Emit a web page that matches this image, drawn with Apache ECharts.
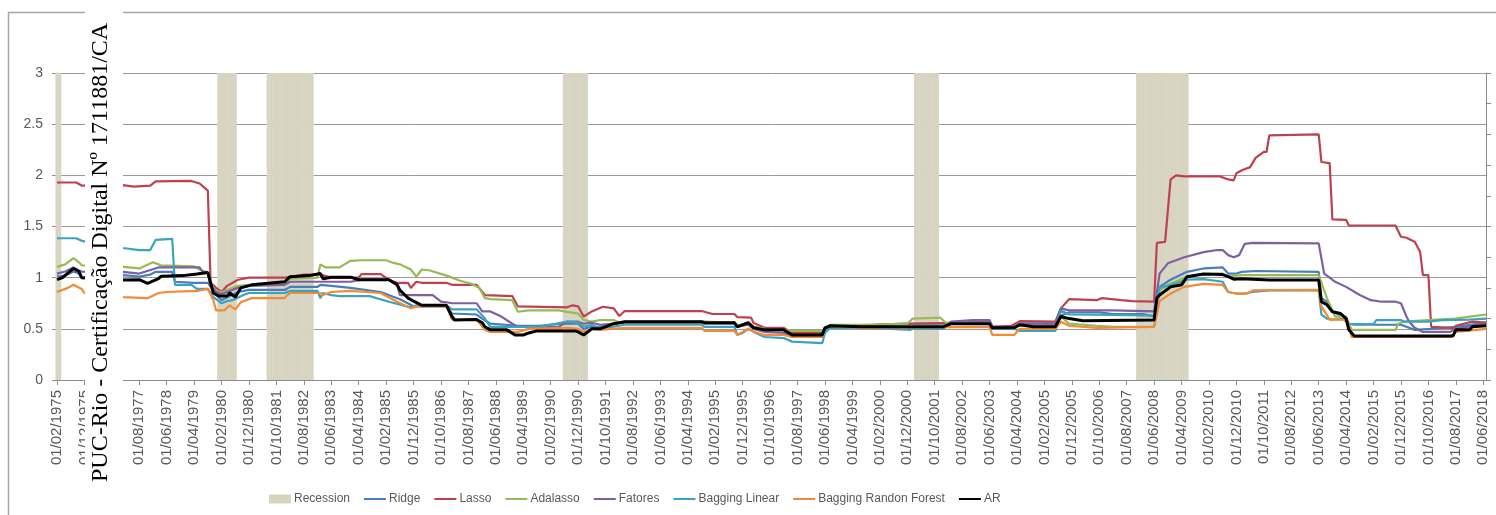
<!DOCTYPE html>
<html>
<head>
<meta charset="utf-8">
<script src="https://cdn.jsdelivr.net/npm/echarts@6/dist/echarts.min.js"></script>
<style>
  html, body { margin: 0; padding: 0; background: #ffffff; }
  #chart { width: 1496px; height: 515px; }
</style>
</head>
<body>
<div id="chart"></div>
<script>
// Monthly category axis: first observation February 1975, one label per month.
const startYear = 1975;
const startMonth = 2;
const monthCount = 522;
const categories = [];
for (let k = 0; k < monthCount; k++) {
  const m = (startMonth - 1 + k) % 12 + 1;
  const y = startYear + Math.floor((startMonth - 1 + k) / 12);
  categories.push('01/' + String(m).padStart(2, '0') + '/' + y);
}

// NBER recession periods (first and last month, inclusive).
const recessionPeriods = [
  ['01/02/1975', '01/03/1975'],
  ['01/01/1980', '01/07/1980'],
  ['01/07/1981', '01/11/1982'],
  ['01/07/1990', '01/03/1991'],
  ['01/03/2001', '01/11/2001'],
  ['01/12/2007', '01/06/2009']
];

// Each series: [month index, value] observations.
const ridge = [[0,1.01],[3,1.02],[6,1.06],[8,1.04],[9,1.0],[24,1.025],[30,1.01],[34,1.03],[36,1.057],[42,1.057],[43,0.96],[50,0.95],[55,0.95],[57,0.87],[60,0.78],[63,0.82],[66,0.86],[70,0.88],[83,0.88],[85,0.91],[95,0.91],[96,0.93],[100,0.92],[107,0.9],[118,0.86],[125,0.79],[130,0.72],[142,0.72],[144,0.65],[153,0.64],[155,0.6],[158,0.55],[168,0.53],[176,0.53],[184,0.55],[190,0.55],[192,0.5],[195,0.52],[198,0.52],[203,0.55],[207,0.57],[235,0.57],[240,0.56],[247,0.56],[248,0.53],[252,0.55],[254,0.52],[258,0.5],[265,0.5],[268,0.45],[279,0.45],[280,0.5],[282,0.53],[293,0.53],[308,0.55],[330,0.55],[334,0.575],[340,0.58],[341,0.52],[349,0.52],[351,0.55],[364,0.55],[366,0.63],[369,0.66],[380,0.66],[385,0.645],[396,0.645],[400,0.62],[402,0.91],[406,0.98],[412,1.057],[418,1.09],[425,1.1],[427,1.04],[430,1.04],[432,1.057],[437,1.065],[460,1.057],[461,0.8],[463,0.765],[465,0.667],[469,0.62],[471,0.55],[473,0.54],[490,0.54],[495,0.49],[501,0.5],[510,0.52],[521,0.56]];

const lasso = [[0,1.93],[7,1.93],[9,1.9],[24,1.905],[28,1.89],[34,1.9],[36,1.94],[49,1.945],[52,1.92],[55,1.85],[56,0.95],[58,0.9],[60,0.86],[62,0.92],[66,0.98],[70,1.0],[83,1.0],[86,1.01],[90,1.03],[96,1.03],[100,1.0],[110,1.0],[111,1.035],[118,1.035],[121,0.98],[124,0.95],[128,0.95],[129,0.9],[131,0.96],[133,0.95],[142,0.95],[144,0.93],[153,0.93],[156,0.83],[166,0.82],[168,0.72],[186,0.71],[188,0.73],[190,0.72],[192,0.62],[195,0.67],[199,0.716],[203,0.7],[205,0.625],[207,0.674],[235,0.674],[239,0.645],[247,0.645],[248,0.615],[253,0.61],[254,0.556],[258,0.51],[265,0.51],[268,0.46],[279,0.46],[280,0.51],[282,0.53],[297,0.54],[330,0.56],[339,0.56],[341,0.52],[348,0.53],[351,0.575],[364,0.57],[366,0.7],[369,0.79],[379,0.78],[381,0.8],[388,0.78],[392,0.77],[400,0.765],[401,1.34],[404,1.35],[406,1.96],[408,2.0],[411,1.99],[424,1.99],[427,1.96],[429,1.95],[430,2.02],[432,2.05],[435,2.08],[437,2.17],[440,2.23],[441,2.23],[442,2.39],[460,2.4],[461,2.13],[464,2.12],[465,1.57],[470,1.565],[471,1.51],[488,1.51],[490,1.4],[492,1.39],[495,1.35],[497,1.25],[498,1.025],[500,1.025],[501,0.52],[508,0.51],[509,0.5],[510,0.53],[516,0.57],[521,0.56]];

const adalasso = [[0,1.105],[3,1.13],[6,1.19],[8,1.15],[9,1.12],[24,1.105],[30,1.09],[35,1.15],[38,1.12],[50,1.11],[52,1.08],[55,1.05],[56,0.93],[58,0.87],[60,0.86],[63,0.89],[66,0.92],[70,0.93],[83,0.94],[85,0.99],[95,1.0],[96,1.13],[98,1.1],[103,1.1],[107,1.165],[111,1.17],[120,1.17],[122,1.15],[125,1.13],[129,1.08],[131,1.01],[133,1.08],[136,1.07],[142,1.02],[147,0.97],[151,0.94],[154,0.9],[156,0.8],[158,0.79],[166,0.78],[168,0.667],[172,0.68],[183,0.68],[186,0.665],[190,0.65],[192,0.586],[195,0.57],[198,0.586],[203,0.586],[205,0.56],[207,0.57],[235,0.57],[247,0.56],[248,0.53],[252,0.56],[254,0.52],[258,0.5],[265,0.49],[268,0.48],[279,0.48],[280,0.51],[282,0.54],[297,0.54],[310,0.55],[312,0.6],[322,0.61],[324,0.56],[340,0.55],[341,0.51],[349,0.51],[351,0.53],[364,0.53],[366,0.62],[369,0.55],[379,0.53],[385,0.52],[400,0.52],[402,0.88],[406,0.94],[412,1.01],[418,1.035],[425,1.04],[427,1.01],[432,1.025],[460,1.025],[463,0.8],[466,0.62],[470,0.62],[472,0.49],[488,0.49],[489,0.55],[491,0.57],[500,0.585],[510,0.6],[515,0.62],[521,0.64]];

const fatores = [[0,1.04],[3,1.06],[6,1.1],[8,1.07],[9,1.06],[24,1.057],[30,1.04],[37,1.1],[52,1.1],[53,1.06],[55,1.04],[56,0.92],[58,0.86],[60,0.84],[63,0.87],[66,0.9],[70,0.92],[83,0.93],[85,0.96],[96,0.96],[107,0.96],[111,0.98],[121,0.98],[124,0.93],[125,0.83],[137,0.83],[140,0.765],[142,0.76],[144,0.75],[153,0.75],[155,0.67],[158,0.67],[162,0.62],[166,0.55],[168,0.52],[183,0.52],[186,0.57],[190,0.57],[192,0.55],[195,0.56],[198,0.54],[207,0.56],[235,0.56],[236,0.55],[247,0.55],[248,0.52],[252,0.54],[254,0.5],[258,0.47],[265,0.46],[268,0.42],[279,0.42],[280,0.49],[282,0.52],[297,0.52],[308,0.52],[311,0.51],[323,0.51],[326,0.57],[334,0.586],[340,0.586],[341,0.52],[349,0.52],[351,0.55],[364,0.55],[366,0.7],[369,0.68],[385,0.68],[400,0.67],[402,1.04],[405,1.14],[411,1.2],[418,1.25],[423,1.27],[425,1.27],[427,1.22],[429,1.2],[431,1.22],[433,1.33],[436,1.34],[460,1.335],[462,1.04],[464,1.0],[466,0.96],[470,0.91],[475,0.83],[479,0.78],[483,0.765],[488,0.765],[490,0.75],[492,0.62],[493,0.57],[495,0.51],[498,0.47],[508,0.47],[510,0.5],[521,0.55]];

const baggingLinear = [[0,1.385],[7,1.385],[9,1.36],[24,1.29],[30,1.27],[34,1.27],[36,1.37],[42,1.38],[43,0.93],[49,0.93],[51,0.89],[55,0.89],[57,0.81],[60,0.75],[62,0.77],[64,0.78],[68,0.83],[70,0.85],[83,0.85],[85,0.87],[95,0.87],[96,0.8],[97,0.85],[100,0.83],[103,0.82],[114,0.82],[121,0.765],[129,0.71],[131,0.73],[142,0.73],[144,0.69],[153,0.69],[156,0.6],[158,0.52],[176,0.52],[186,0.57],[190,0.56],[192,0.52],[195,0.54],[198,0.5],[207,0.54],[235,0.54],[236,0.52],[247,0.52],[248,0.44],[250,0.46],[252,0.5],[254,0.47],[258,0.42],[265,0.41],[268,0.375],[279,0.36],[280,0.46],[282,0.51],[297,0.51],[311,0.49],[312,0.5],[323,0.5],[326,0.55],[340,0.55],[341,0.5],[349,0.5],[351,0.48],[364,0.48],[366,0.68],[369,0.64],[385,0.635],[400,0.63],[402,0.9],[406,0.93],[412,0.98],[418,0.985],[425,0.96],[427,0.86],[430,0.845],[433,0.845],[436,0.86],[442,0.875],[460,0.875],[461,0.64],[463,0.6],[465,0.59],[470,0.6],[471,0.547],[480,0.547],[481,0.586],[490,0.586],[491,0.57],[500,0.57],[505,0.585],[515,0.59],[521,0.6]];

const baggingRF = [[0,0.86],[4,0.9],[6,0.93],[9,0.89],[10,0.85],[24,0.81],[33,0.8],[37,0.85],[40,0.86],[51,0.87],[55,0.89],[57,0.78],[58,0.68],[61,0.68],[63,0.73],[65,0.69],[67,0.76],[71,0.8],[83,0.8],[84,0.83],[85,0.85],[96,0.85],[97,0.83],[100,0.86],[107,0.87],[118,0.85],[124,0.765],[129,0.7],[131,0.72],[142,0.72],[144,0.59],[153,0.59],[156,0.49],[158,0.47],[168,0.47],[172,0.5],[186,0.51],[190,0.5],[192,0.47],[195,0.5],[198,0.49],[207,0.51],[235,0.51],[236,0.48],[247,0.48],[248,0.44],[252,0.5],[254,0.47],[258,0.44],[265,0.44],[268,0.42],[279,0.42],[280,0.51],[282,0.53],[293,0.51],[340,0.52],[341,0.44],[349,0.44],[351,0.5],[364,0.5],[366,0.57],[369,0.53],[379,0.51],[400,0.52],[402,0.77],[406,0.845],[411,0.91],[418,0.94],[425,0.93],[427,0.86],[430,0.845],[434,0.845],[436,0.875],[460,0.88],[461,0.72],[464,0.59],[469,0.59],[471,0.55],[472,0.42],[508,0.42],[510,0.47],[521,0.5]];

const ar = [[0,0.98],[2,1.0],[6,1.09],[8,1.06],[9,1.0],[24,0.977],[30,0.98],[33,0.945],[37,0.99],[38,1.015],[46,1.02],[51,1.035],[55,1.05],[57,0.85],[59,0.82],[62,0.82],[63,0.85],[65,0.81],[67,0.9],[71,0.93],[83,0.96],[85,1.01],[92,1.02],[96,1.04],[97,0.99],[100,1.005],[107,1.005],[110,0.98],[121,0.98],[124,0.93],[125,0.88],[128,0.8],[130,0.77],[133,0.73],[142,0.73],[144,0.62],[145,0.586],[153,0.59],[155,0.56],[156,0.52],[158,0.49],[164,0.49],[167,0.44],[170,0.44],[172,0.46],[175,0.48],[189,0.48],[190,0.47],[192,0.44],[195,0.5],[198,0.5],[203,0.55],[207,0.57],[235,0.57],[236,0.56],[247,0.56],[248,0.52],[252,0.56],[254,0.51],[258,0.49],[265,0.49],[268,0.44],[279,0.44],[280,0.51],[282,0.53],[293,0.52],[323,0.52],[326,0.55],[340,0.55],[341,0.51],[349,0.51],[351,0.54],[356,0.52],[364,0.52],[366,0.62],[369,0.6],[374,0.58],[400,0.586],[401,0.8],[402,0.83],[406,0.91],[410,0.93],[412,1.01],[418,1.035],[425,1.03],[427,1.01],[429,0.985],[432,0.99],[442,0.977],[460,0.977],[461,0.765],[463,0.735],[465,0.667],[468,0.65],[470,0.6],[471,0.49],[473,0.43],[509,0.43],[510,0.49],[515,0.49],[516,0.52],[521,0.53]];

// Recession flag per month, on the secondary (0..1) axis.
const recession = categories.map(function (c, i) {
  for (const p of recessionPeriods) {
    const a = categories.indexOf(p[0]);
    const b = categories.indexOf(p[1]);
    if (i >= a && i <= b) return 1;
  }
  return '-';
});

const lineSeries = [
  { name: 'Ridge', data: ridge, color: '#4a7ebb', width: 2.2 },
  { name: 'Lasso', data: lasso, color: '#be4150', width: 2.2 },
  { name: 'Adalasso', data: adalasso, color: '#98b954', width: 2.2 },
  { name: 'Fatores', data: fatores, color: '#7d60a0', width: 2.2 },
  { name: 'Bagging Linear', data: baggingLinear, color: '#3aa4be', width: 2.2 },
  { name: 'Bagging Randon Forest', data: baggingRF, color: '#f38a35', width: 2.2 },
  { name: 'AR', data: ar, color: '#000000', width: 3 }
];

const chart = echarts.init(document.getElementById('chart'), null, { renderer: 'canvas' });

const axisGray = '#8c8c8c';
const labelGray = '#595959';

chart.setOption({
  animation: false,
  backgroundColor: '#ffffff',
  grid: { left: 57, right: 10, top: 73, bottom: 135 },
  legend: {
    left: 264,
    top: 488,
    itemWidth: 22,
    itemHeight: 9,
    itemGap: 13,
    textStyle: { fontFamily: 'Liberation Sans, Arial, sans-serif', fontSize: 12, color: labelGray, padding: [0, 0, 0, -2] },
    // line entries show the stroke only, no marker in the middle
    data: [{ name: 'Recession', icon: 'rect' }].concat(lineSeries.map(function (s) {
      return { name: s.name, itemStyle: { opacity: 0 } };
    }))
  },
  xAxis: {
    type: 'category',
    data: categories,
    boundaryGap: false,
    axisLine: { lineStyle: { color: axisGray, width: 1 } },
    axisTick: { interval: 9, length: 5, lineStyle: { color: axisGray } },
    axisLabel: {
      interval: 9,
      rotate: 90,
      margin: 10,
      fontSize: 15,
      color: labelGray,
      fontFamily: 'Liberation Sans, Arial, sans-serif'
    },
    splitLine: { show: false }
  },
  yAxis: [
    {
      type: 'value',
      min: 0,
      max: 3,
      interval: 0.5,
      axisLine: { show: true, lineStyle: { color: axisGray } },
      axisTick: { show: true, length: 5, lineStyle: { color: axisGray } },
      axisLabel: { fontSize: 14, color: labelGray, margin: 14, fontFamily: 'Liberation Sans, Arial, sans-serif' },
      splitLine: { show: true, lineStyle: { color: '#9a9a9a', width: 1 } }
    },
    {
      type: 'value',
      position: 'right',
      min: 0,
      max: 1,
      interval: 0.1,
      axisLine: { show: true, lineStyle: { color: axisGray } },
      axisTick: { show: true, length: 5, lineStyle: { color: axisGray } },
      axisLabel: { show: false },
      splitLine: { show: false }
    }
  ],
  series: [
    {
      name: 'Recession',
      type: 'bar',
      yAxisIndex: 1,
      data: recession,
      barWidth: 3.1,
      itemStyle: { color: '#d8d4c2' },
      z: 1
    }
  ].concat(lineSeries.map(function (s, k) {
    return {
      name: s.name,
      type: 'line',
      data: s.data,
      symbol: 'none',
      color: s.color,
      lineStyle: { color: s.color, width: s.width },
      z: 3 + k
    };
  })),
  graphic: [
    {
      type: 'rect',
      shape: { x: 8.5, y: 12.5, width: 1500, height: 520 },
      style: { fill: 'none', stroke: '#a6a6a6', lineWidth: 1.5 },
      z: -10,
      silent: true
    },
    {
      type: 'rect',
      shape: { x: 85, y: 0, width: 38, height: 481 },
      style: { fill: '#ffffff' },
      z: 100,
      silent: true
    },
    {
      type: 'text',
      x: 113,
      y: 482,
      rotation: Math.PI / 2,
      z: 101,
      silent: true,
      style: {
        text: 'PUC-Rio - Certificação Digital Nº 1711881/CA',
        fill: '#000000',
        fontFamily: 'Liberation Serif, Times New Roman, serif',
        fontSize: 24,
        align: 'left',
        verticalAlign: 'bottom'
      }
    }
  ]
});
</script>
</body>
</html>
